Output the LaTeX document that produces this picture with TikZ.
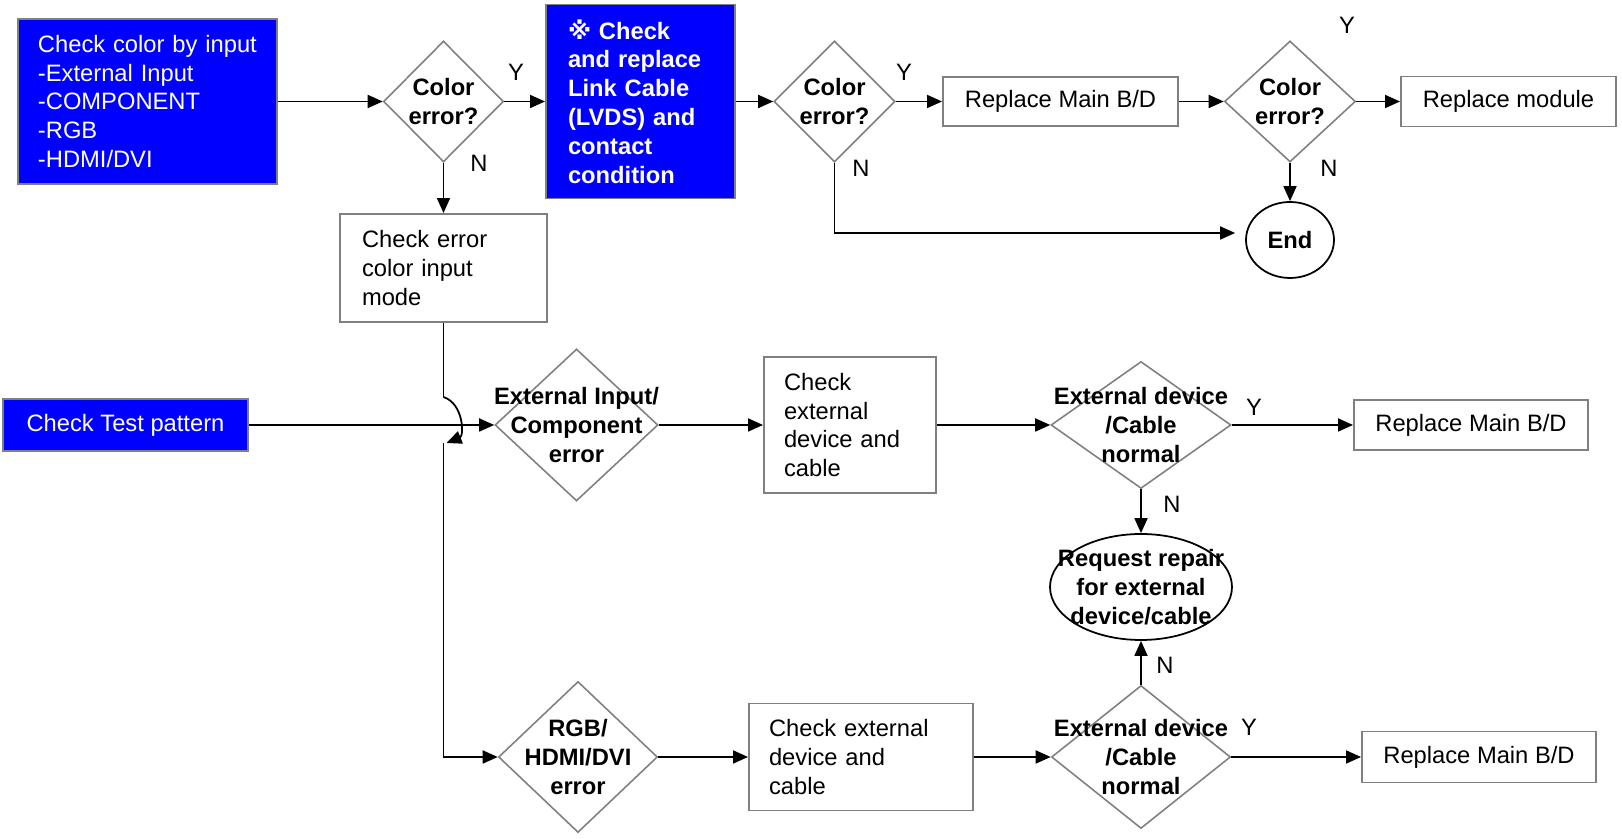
\documentclass[tikz,border=0pt]{standalone}
\usepackage{fontspec}
\setmainfont{Liberation Sans}
\newfontfamily\marksymbol{DejaVu Sans}
\usetikzlibrary{shapes.geometric,arrows.meta}
\definecolor{panelblue}{RGB}{0,0,255}
\colorlet{rimgrey}{black!50}
\tikzset{
  flow/txt/.style={font=\fontsize{13.5}{16.4}\selectfont},
  flow/bold/.style={font=\fontsize{13.5}{16.4}\selectfont\bfseries, align=center},
  flow/box/.style={flow/txt, draw=rimgrey, line width=1.1pt, inner sep=0pt, align=center},
  flow/blue/.style={flow/box, fill=panelblue, text=white},
  flow/test/.style={diamond, draw=rimgrey, line width=0.9pt, inner sep=0pt},
  flow/oval/.style={ellipse, draw=black, line width=1pt, inner sep=0pt},
  flow/line/.style={black, line width=1pt},
  flow/arrow/.style={flow/line, -{Triangle[length=0.30cm,width=0.26cm]}},
  flow/yn/.style={flow/txt, inner sep=0pt},
}

\begin{document}
\begin{tikzpicture}
  \useasboundingbox (0,0) rectangle (32.44,16.78);

  % top row
  \node[flow/blue, minimum height=3.30cm, inner xsep=0.40cm, text width=4.38cm, align=left] (colin) at (2.95,14.75)
    {\hyphenpenalty=10000 Check color by input\\-External Input\\-COMPONENT\\-RGB\\-HDMI/DVI};
  \node[flow/test, minimum width=2.40cm, minimum height=2.42cm, label={[flow/bold]center:Color\\error?}] (err1) at (8.87,14.75) {};
  \node[flow/blue, font=\fontsize{13.5}{16.4}\selectfont\bfseries, minimum height=3.88cm, inner xsep=0.44cm, text width=2.90cm, align=left] (lvds) at (12.81,14.75)
    {{\marksymbol ※} Check\\and replace\\Link Cable\\(LVDS) and\\contact\\condition};
  \node[flow/test, minimum width=2.42cm, minimum height=2.42cm, label={[flow/bold]center:Color\\error?}] (err2) at (16.69,14.75) {};
  \node[flow/box, minimum width=4.70cm, minimum height=0.98cm] (mainA) at (21.21,14.75) {Replace Main B/D};
  \node[flow/test, minimum width=2.62cm, minimum height=2.42cm, label={[flow/bold]center:Color\\error?}] (err3) at (25.80,14.75) {};
  \node[flow/box, minimum width=4.30cm, minimum height=1.00cm] (module) at (30.17,14.75) {Replace module};
  \node[flow/oval, flow/bold, minimum width=1.76cm, minimum height=1.52cm] (end) at (25.80,11.98) {End};
  \node[flow/box, minimum height=2.16cm, inner xsep=0.44cm, text width=3.26cm, align=left] (mode) at (8.87,11.42)
    {Check error\\color input\\mode};

  % middle and bottom rows
  \node[flow/blue, minimum width=4.90cm, minimum height=1.04cm] (pattern) at (2.51,8.28) {Check Test pattern};
  \node[flow/test, minimum width=3.26cm, minimum height=3.04cm, label={[flow/bold]center:External Input/\\Component\\error}] (extin) at (11.53,8.28) {};
  \node[flow/box, minimum height=2.72cm, inner xsep=0.40cm, text width=2.64cm, align=left] (devA) at (17.00,8.28)
    {Check\\external\\device and\\cable};
  \node[flow/test, minimum width=3.60cm, minimum height=2.54cm, label={[flow/bold]center:External device\\/Cable\\normal}] (okA) at (22.82,8.28) {};
  \node[flow/box, minimum width=4.68cm, minimum height=1.00cm] (mainB) at (29.42,8.28) {Replace Main B/D};
  \node[flow/oval, minimum width=3.64cm, minimum height=2.12cm, label={[flow/bold]center:Request repair\\for external\\device/cable}] (repair) at (22.82,5.04) {};
  \node[flow/test, minimum width=3.18cm, minimum height=3.02cm, label={[flow/bold]center:RGB/\\HDMI/DVI\\error}] (rgb) at (11.56,1.64) {};
  \node[flow/box, minimum height=2.14cm, inner xsep=0.40cm, text width=3.68cm, align=left] (devB) at (17.22,1.64)
    {Check external\\device and\\cable};
  \node[flow/test, minimum width=3.58cm, minimum height=2.86cm, label={[flow/bold]center:External device\\/Cable\\normal}] (okB) at (22.82,1.64) {};
  \node[flow/box, minimum width=4.68cm, minimum height=1.02cm] (mainC) at (29.58,1.64) {Replace Main B/D};

  % Y / N marks
  \node[flow/yn] (y1) at (10.32,15.34) {Y};
  \node[flow/yn] (n1) at (9.58,13.52) {N};
  \node[flow/yn] (y2) at (18.08,15.34) {Y};
  \node[flow/yn] (n2) at (17.22,13.42) {N};
  \node[flow/yn] (y3) at (26.94,16.28) {Y};
  \node[flow/yn] (n3) at (26.58,13.42) {N};
  \node[flow/yn] (y4) at (25.08,8.64) {Y};
  \node[flow/yn] (n4) at (23.44,6.70) {N};
  \node[flow/yn] (n5) at (23.30,3.48) {N};
  \node[flow/yn] (y5) at (24.98,2.24) {Y};

  % connectors
  \draw[flow/arrow] (colin) -- (err1);
  \draw[flow/arrow] (err1) -- (lvds);
  \draw[flow/arrow] (lvds) -- (err2);
  \draw[flow/arrow] (err2) -- (mainA);
  \draw[flow/arrow] (mainA) -- (err3);
  \draw[flow/arrow] (err3) -- (module);
  \draw[flow/arrow] (err3) -- (end);
  \draw[flow/arrow] (err2.south) |- ([xshift=-0.20cm,yshift=0.14cm]end.west);
  \draw[flow/arrow] (err1) -- (mode);

  \coordinate (hopA) at (8.87,8.84);
  \coordinate (hopB) at (8.87,7.92);
  \draw[flow/line] (mode.south) -- (hopA);
  \draw[flow/arrow] (hopA) .. controls (9.28,8.70) and (9.28,8.06) .. ([xshift=0.06cm]hopB);
  \draw[flow/arrow] (hopB) |- (rgb.west);
  \draw[flow/arrow] (pattern) -- (extin);

  \draw[flow/arrow] (extin) -- (devA);
  \draw[flow/arrow] (devA) -- (okA);
  \draw[flow/arrow] (okA) -- (mainB);
  \draw[flow/arrow] (okA) -- (repair);
  \draw[flow/arrow] (rgb) -- (devB);
  \draw[flow/arrow] (devB) -- (okB);
  \draw[flow/arrow] (okB) -- (mainC);
  \draw[flow/arrow] (okB) -- (repair);
\end{tikzpicture}
\end{document}
